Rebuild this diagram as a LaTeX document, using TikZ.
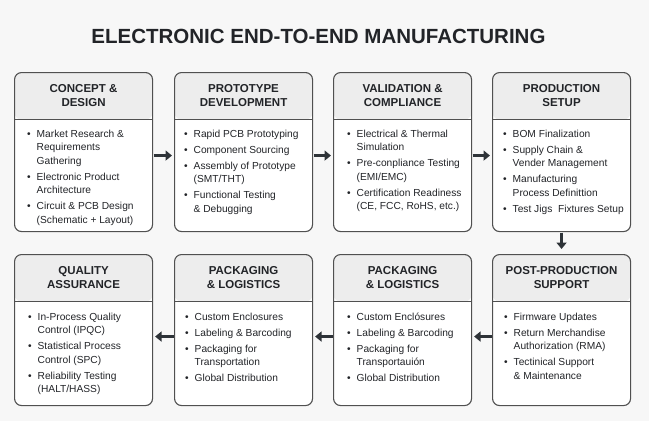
\documentclass[tikz,border=0pt]{standalone}
\usepackage{fontspec}
\setmainfont{Liberation Sans}
\usetikzlibrary{arrows.meta}
\definecolor{bgc}{HTML}{F7F7F7}
\definecolor{headfill}{HTML}{EDEDED}
\definecolor{bordc}{HTML}{505050}
\definecolor{txtc}{HTML}{222428}
\definecolor{arrc}{HTML}{2E3338}
\newcommand\myb{\makebox[9.5pt][l]{\textbullet}}
\newcommand\myc{\hspace*{9.5pt}}
\tikzset{
  card/.style={draw=bordc, line width=1.1pt, rounded corners=7pt, fill=white,
    minimum width=138pt, minimum height=#1, inner sep=0pt, anchor=north west,
    path picture={
      \fill[headfill] (path picture bounding box.north west) rectangle ([yshift=-47pt]path picture bounding box.north east);
      \draw[bordc, line width=0.8pt] ([yshift=-47pt]path picture bounding box.north west) -- ([yshift=-47pt]path picture bounding box.north east);
    }},
  head/.style={font=\fontsize{11.5}{14}\selectfont\bfseries, align=center, text=txtc, inner sep=0pt},
  body/.style={font=\fontsize{10.2}{13.5}\selectfont, align=left, text=txtc, inner sep=0pt, anchor=north west},
  flow/.style={draw=arrc, line width=2.8pt, -{Triangle[length=6.5pt,width=10pt]}}
}
\begin{document}
\begin{tikzpicture}[x=1pt,y=-1pt]
\useasboundingbox (0,0) rectangle (649,421);
\fill[bgc] (0,0) rectangle (649,421);

\node[font=\fontsize{20.5}{24}\selectfont\bfseries, text=txtc, inner sep=0pt] (title) at (318.5,36) {ELECTRONIC END-TO-END MANUFACTURING};

% top row
\node[card=159pt] (b1) at (14,72) {};
\node[card=159pt] (b2) at (174,72) {};
\node[card=159pt] (b3) at (333,72) {};
\node[card=159pt] (b4) at (492,72) {};
% bottom row
\node[card=151pt] (b5) at (14,254) {};
\node[card=151pt] (b6) at (174,254) {};
\node[card=151pt] (b7) at (333,254) {};
\node[card=151pt] (b8) at (492,254) {};

% headers
\node[head] (h1) at ([yshift=-24pt]b1.north) {CONCEPT \&\\DESIGN};
\node[head] (h2) at ([yshift=-24pt]b2.north) {PROTOTYPE\\DEVELOPMENT};
\node[head] (h3) at ([yshift=-24pt]b3.north) {VALIDATION \&\\COMPLIANCE};
\node[head] (h4) at ([yshift=-24pt]b4.north) {PRODUCTION\\SETUP};
\node[head] (h5) at ([yshift=-24pt]b5.north) {QUALITY\\ASSURANCE};
\node[head] (h6) at ([yshift=-24pt]b6.north) {PACKAGING\\\& LOGISTICS};
\node[head] (h7) at ([yshift=-24pt]b7.north) {PACKAGING\\\& LOGISTICS};
\node[head] (h8) at ([yshift=-24pt]b8.north) {POST-PRODUCTION\\SUPPORT};

% bodies
\node[body] (t1) at ([xshift=13pt,yshift=-57.5pt]b1.north west) {\myb Market Research \&\\\myc Requirements\\\myc Gathering\\[2.5pt]\myb Electronic Product\\\myc Architecture\\[2.5pt]\myb Circuit \& PCB Design\\\myc (Schematic + Layout)};
\node[body] (t2) at ([xshift=10pt,yshift=-57.5pt]b2.north west) {\myb Rapid PCB Prototyping\\[2.5pt]\myb Component Sourcing\\[2.5pt]\myb Assembly of Prototype\\\myc (SMT/THT)\\[2.5pt]\myb Functional Testing\\\myc \& Debugging};
\node[body] (t3) at ([xshift=14pt,yshift=-57.5pt]b3.north west) {\myb Electrical \& Thermal\\\myc Simulation\\[2.5pt]\myb Pre-conpliance Testing\\\myc (EMI/EMC)\\[2.5pt]\myb Certification Readiness\\\myc (CE, FCC, RoHS, etc.)};
\node[body] (t4) at ([xshift=11pt,yshift=-57.5pt]b4.north west) {\myb BOM Finalization\\[2.5pt]\myb Supply Chain \&\\\myc Vender Management\\[2.5pt]\myb Manufacturing\\\myc Process Definittion\\[2.5pt]\myb Test Jigs\ \ Fixtures Setup};
\node[body] (t5) at ([xshift=14pt,yshift=-58.5pt]b5.north west) {\myb In-Process Quality\\\myc Control (IPQC)\\[2.5pt]\myb Statistical Process\\\myc Control (SPC)\\[2.5pt]\myb Reliability Testing\\\myc (HALT/HASS)};
\node[body] (t6) at ([xshift=11pt,yshift=-58.5pt]b6.north west) {\myb Custom Enclosures\\[2.5pt]\myb Labeling \& Barcoding\\[2.5pt]\myb Packaging for\\\myc Transportation\\[2.5pt]\myb Global Distribution};
\node[body] (t7) at ([xshift=14pt,yshift=-58.5pt]b7.north west) {\myb Custom Enclósures\\[2.5pt]\myb Labeling \& Barcoding\\[2.5pt]\myb Packaging for\\\myc Transportauión\\[2.5pt]\myb Global Distribution};
\node[body] (t8) at ([xshift=12pt,yshift=-58.5pt]b8.north west) {\myb Firmware Updates\\[2.5pt]\myb Return Merchandise\\\myc Authorization (RMA)\\[2.5pt]\myb Tectinical Support\\\myc \& Maintenance};

% connectors
\draw[flow, shorten <=0.5pt, shorten >=2pt] ([yshift=-3.5pt]b1.east) -- ([yshift=-3.5pt]b2.west);
\draw[flow, shorten <=0.5pt, shorten >=2pt] ([yshift=-3.5pt]b2.east) -- ([yshift=-3.5pt]b3.west);
\draw[flow, shorten <=0.5pt, shorten >=2pt] ([yshift=-3.5pt]b3.east) -- ([yshift=-3.5pt]b4.west);
\draw[flow, shorten <=0.5pt, shorten >=5pt] (b4.south) -- (b8.north);
\draw[flow, shorten <=0.5pt, shorten >=2pt] ([yshift=-6.5pt]b8.west) -- ([yshift=-6.5pt]b7.east);
\draw[flow, shorten <=0.5pt, shorten >=2pt] ([yshift=-6.5pt]b7.west) -- ([yshift=-6.5pt]b6.east);
\draw[flow, shorten <=0.5pt, shorten >=2pt] ([yshift=-6.5pt]b6.west) -- ([yshift=-6.5pt]b5.east);
\end{tikzpicture}
\end{document}
